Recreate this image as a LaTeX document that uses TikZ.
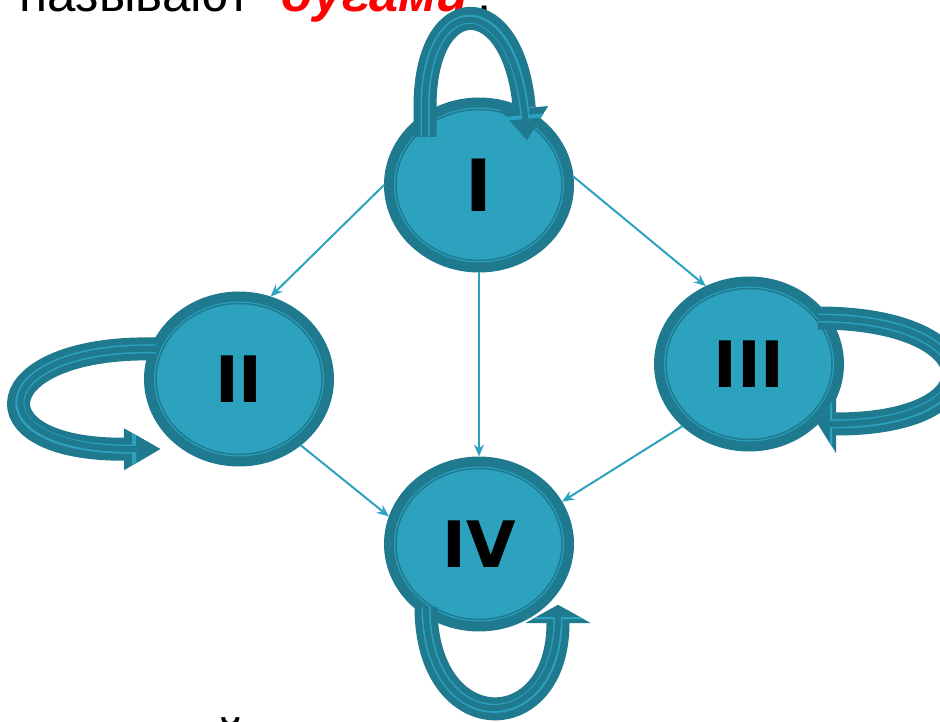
\documentclass[tikz,border=0pt]{standalone}
\usepackage{fontspec}
\setmainfont{Liberation Sans}
\newfontfamily\labelfont{DejaVu Sans}
\usetikzlibrary{shapes.geometric,arrows.meta}

\definecolor{nodefill}{HTML}{2CA2BF}
\definecolor{ringdark}{HTML}{1F7A8F}

\tikzset{
    vertex/.style={ellipse, fill=nodefill, draw=ringdark, line width=10pt,
        minimum width=180pt, minimum height=165pt, inner sep=0pt,
        font=\labelfont\bfseries\fontsize{64}{64}\selectfont,
        path picture={
            \draw[nodefill, line width=1.5pt] (path picture bounding box.center) ellipse [x radius=84.5pt, y radius=77pt];
            \draw[ringdark, line width=1.5pt] (path picture bounding box.center) ellipse [x radius=83pt, y radius=75.5pt];
        }},
    conn/.style={draw=nodefill, line width=2pt, -{Stealth[length=12pt,width=10pt,inset=4pt]}},
    loopband/.style 2 args={draw=ringdark, line width=23pt,
        -{Triangle[length=#1,width=#2,line width=0pt]},
        postaction={draw=nodefill, line width=9pt, -{Triangle[length=#1,width=#2,line width=0pt,scale=0.78]}},
        postaction={draw=ringdark, line width=6pt, -{Triangle[length=#1,width=#2,line width=0pt,scale=0.66]}}},
    words/.style={inner sep=0pt, font=\fontsize{51}{60}\selectfont}
}

\begin{document}
\begin{tikzpicture}[x=1pt, y=-1pt]
    \useasboundingbox (0,0) rectangle (940,722);

    % text cut by the frame
    \node[words, anchor=base west] (title) at (19.5,12) {называют\hspace{30pt}\textcolor{red}{\fontsize{52}{60}\selectfont\textbf{\textit{дугами}}}\hspace{9pt}.};
    \node[words, anchor=base] (tail) at (231,755) {й};

    % the four vertices
    \node[vertex, font=\labelfont\bfseries\fontsize{72}{72}\selectfont] (I) at (479,185) {I};
    \node[vertex] (II) at (239,379) {II};
    \node[vertex] (III) at (749,364) {III};
    \node[vertex] (IV) at (479,544) {IV};

    % arcs between vertices
    \draw[conn] (I.180) -- (II.69);
    \draw[conn] (I.5) -- (III.119);
    \draw[conn] (I.south) -- (IV.north);
    \draw[conn] (II.-47) -- (IV.163);
    \draw[conn] (III.223) -- (IV.27);

    % loops
    \draw[loopband={32pt}{48pt}] ([shift={(-54,-48)}]I.center) -- ++(0,-32)
        .. controls +(1,-116) and +(-13,-151) .. ([shift={(48,-45)}]I.center);
    \draw[loopband={36pt}{42pt}] ([shift={(-83,-30)}]II.center)
        .. controls +(-168,-4) and +(-190,1) .. ([shift={(-79,70)}]II.center);
    \draw[loopband={18pt}{58pt}] ([shift={(69,-46)}]III.center)
        .. controls +(172,0) and +(182,0) .. ([shift={(69,60)}]III.center);
    \draw[loopband={18pt}{65pt}] ([shift={(-53,63)}]IV.center)
        .. controls +(0,133) and +(0,135) .. ([shift={(79,61)}]IV.center);
\end{tikzpicture}
\end{document}
